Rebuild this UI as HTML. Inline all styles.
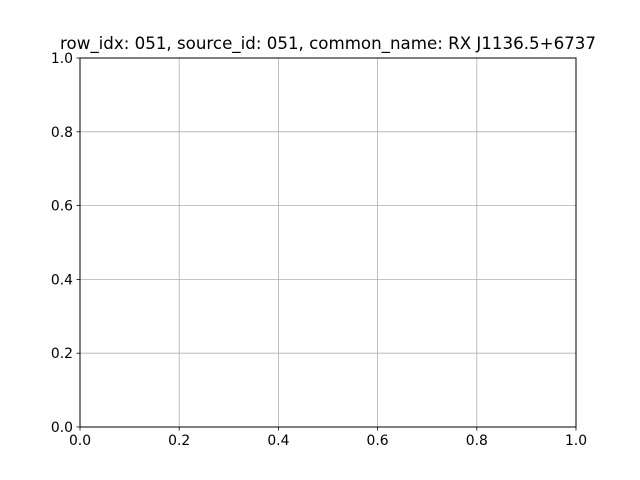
<!DOCTYPE html>
<html><head><meta charset="utf-8"><style>
html,body{margin:0;padding:0;background:#fff;}
svg{display:block;font-family:"DejaVu Sans","Liberation Sans",sans-serif;}
</style></head><body>
<svg id="chart" width="640" height="480" viewBox="0 0 640 480">
<rect width="640" height="480" fill="#fff"/>
<text x="328" y="49" font-size="16.67" text-anchor="middle" fill="#000">row_idx: 051, source_id: 051, common_name: RX J1136.5+6737</text>
<g id="grid"></g>
<g id="ticks"></g>
<rect x="80" y="58" width="496" height="369" fill="none" stroke="#000" stroke-width="1"/>
</svg>
<script>
const xTicks = [0.0, 0.2, 0.4, 0.6, 0.8, 1.0];
const yTicks = [0.0, 0.2, 0.4, 0.6, 0.8, 1.0];
const xTickLabels = ["0.0","0.2","0.4","0.6","0.8","1.0"];
const yTickLabels = ["0.0","0.2","0.4","0.6","0.8","1.0"];
const L=80,R=576,T=58,B=427;
const sx=v=>L+(v-0)/(1-0)*(R-L);
const sy=v=>B-(v-0)/(1-0)*(B-T);
const NS="http://www.w3.org/2000/svg";
const grid=document.getElementById('grid'), ticks=document.getElementById('ticks');
function mk(tag,attrs,parent){const e=document.createElementNS(NS,tag);for(const k in attrs)e.setAttribute(k,attrs[k]);parent.appendChild(e);return e;}
xTicks.forEach((v,i)=>{
  const x=sx(v);
  const g=mk('line',{x1:x,x2:x,y1:T,y2:B,stroke:'#b0b0b0','stroke-width':0.8},grid);
  
  
  const t=mk('line',{x1:x,x2:x,y1:B,y2:B+3.5,stroke:'#000','stroke-width':0.8},ticks);
  
  
  const l=mk('text',{x:x,y:B+18,'font-size':13.9,'text-anchor':'middle',fill:'#000'},ticks);
  l.textContent=xTickLabels[i];
  
  
});
yTicks.forEach((v,i)=>{
  const y=sy(v);
  const g=mk('line',{x1:L,x2:R,y1:y,y2:y,stroke:'#b0b0b0','stroke-width':0.8},grid);
  
  
  const t=mk('line',{x1:L-3.5,x2:L,y1:y,y2:y,stroke:'#000','stroke-width':0.8},ticks);
  
  
  const l=mk('text',{x:L-7,y:y+5,'font-size':13.9,'text-anchor':'end',fill:'#000'},ticks);
  l.textContent=yTickLabels[i];
  
  
});
</script>
</body></html>
